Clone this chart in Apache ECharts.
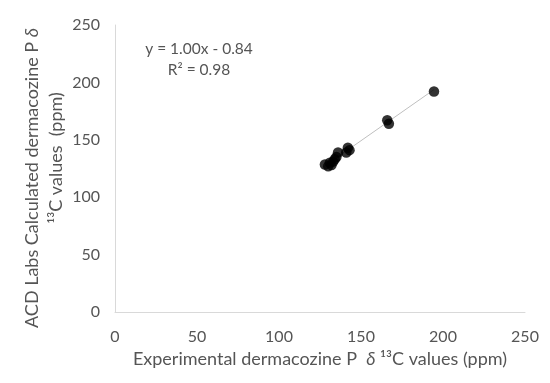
<!DOCTYPE html>
<html><head><meta charset="utf-8">
<script src="https://cdn.jsdelivr.net/npm/echarts@6/dist/echarts.min.js"></script>
<style>html,body{margin:0;padding:0;background:#fff}#c{width:550px;height:383px}</style>
</head><body><div id="c"></div>
<script>
var expX = [128, 130, 131, 132, 133, 134, 135, 136, 141, 142, 143, 166, 167, 194.5];
var calcY = [128.5, 127, 130, 128, 131, 133, 135, 139, 139, 143, 141, 167, 164, 192];
var trendX = [128, 194.5];
var trendY = [127.2, 193.7];
var xTicks = [0, 50, 100, 150, 200, 250];
var yTicks = [0, 50, 100, 150, 200, 250];
var eqText = 'y = 1.00x - 0.84';
var r2Text = 'R² = 0.98';

var FONT = 'Lato, "Open Sans", "Noto Sans", sans-serif';
var GRAY = '#555555';
var pts = expX.map(function (x, i) { return [x, calcY[i]]; });
var trend = trendX.map(function (x, i) { return [x, trendY[i]]; });

var chart = echarts.init(document.getElementById('c'));
chart.setOption({
  animation: false,
  grid: { left: 115, right: 25, top: 25, bottom: 71 },
  xAxis: {
    type: 'value', min: 0, max: 250, interval: 50,
    axisLine: { lineStyle: { color: '#d9d9d9', width: 1 } },
    axisTick: { show: false }, splitLine: { show: false },
    axisLabel: { color: GRAY, fontSize: 16, fontFamily: FONT, margin: 17 },
    name: '{n|Experimental dermacozine P  }{d|δ}{n| ¹³C values (ppm)}',
    nameLocation: 'middle', nameGap: 36,
    nameTextStyle: { rich: {
      n: { color: GRAY, fontSize: 18, fontFamily: FONT },
      d: { color: GRAY, fontSize: 18, fontFamily: FONT, fontStyle: 'italic' }
    } }
  },
  yAxis: {
    type: 'value', min: 0, max: 250, interval: 50,
    axisLine: { show: true, lineStyle: { color: '#d9d9d9', width: 1 } },
    axisTick: { show: false }, splitLine: { show: false },
    axisLabel: { color: GRAY, fontSize: 16, fontFamily: FONT, margin: 15 }
  },
  graphic: [
    { type: 'text', x: 32, y: 178, rotation: Math.PI / 2,
      style: { text: '{n|ACD Labs Calculated dermacozine P }{d|δ}', align: 'center', verticalAlign: 'middle',
        rich: { n: { fill: GRAY, fontSize: 18, fontFamily: FONT },
                d: { fill: GRAY, fontSize: 18, fontFamily: FONT, fontStyle: 'italic' } } } },
    { type: 'text', x: 56, y: 158, rotation: Math.PI / 2,
      style: { text: '¹³C values  (ppm)', align: 'center', verticalAlign: 'middle',
        fill: GRAY, fontSize: 18, fontFamily: FONT } },
    { type: 'text', x: 199, y: 49,
      style: { text: eqText, align: 'center', verticalAlign: 'middle', fill: GRAY, fontSize: 15.5, fontFamily: FONT } },
    { type: 'text', x: 199, y: 70,
      style: { text: r2Text, align: 'center', verticalAlign: 'middle', fill: GRAY, fontSize: 15.5, fontFamily: FONT } }
  ],
  series: [
    { type: 'line', data: trend, symbol: 'none', lineStyle: { color: '#bfbfbf', width: 1 }, z: 1, silent: true },
    { type: 'scatter', data: pts, symbolSize: 10.5, itemStyle: { color: '#000' }, z: 2 }
  ]
});
</script></body></html>
